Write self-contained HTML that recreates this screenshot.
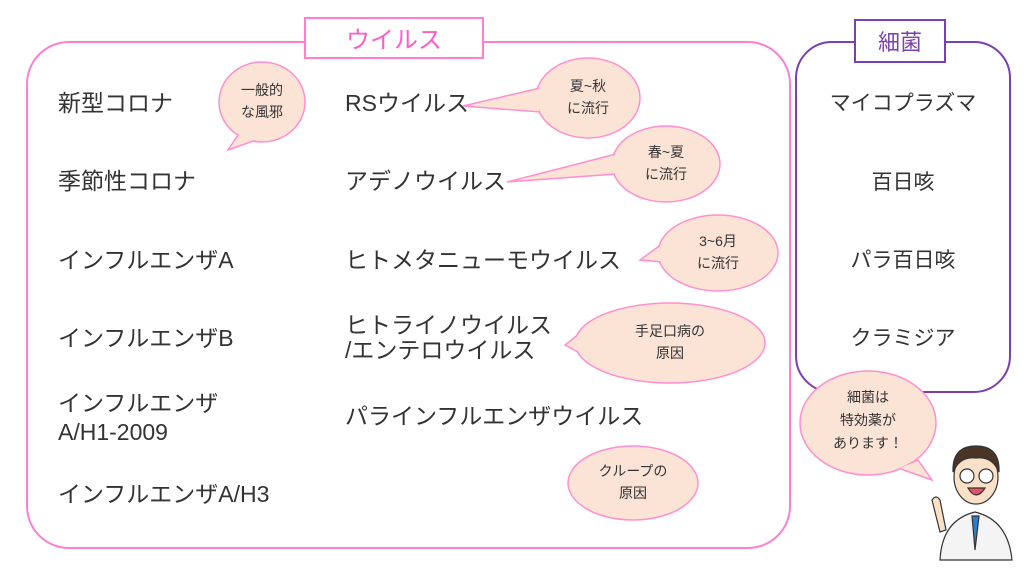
<!DOCTYPE html>
<html><head><meta charset="utf-8"><style>
body{margin:0;background:#fff}
svg text{font-family:"Liberation Sans","Noto Sans CJK JP",sans-serif;fill:#333}
.b{font-size:23px}
.s{font-size:14px}
</style></head><body>
<svg width="1024" height="565" viewBox="0 0 1024 565">
<rect x="27" y="42" width="763" height="506" rx="42" fill="none" stroke="#ff7ed0" stroke-width="2"/>
<rect x="305" y="18" width="178" height="40" fill="#fff" stroke="#ff7ed0" stroke-width="2"/>
<text x="394" y="48" text-anchor="middle" style="font-size:24px;fill:#ff5cc8">ウイルス</text>
<rect x="796" y="42" width="214" height="350" rx="36" fill="none" stroke="#7a3fb0" stroke-width="2"/>
<rect x="855" y="20" width="90" height="42" fill="#fff" stroke="#7a3fb0" stroke-width="2"/>
<text x="900" y="50" text-anchor="middle" style="font-size:22px;fill:#7a3fb0">細菌</text>

<g class="b">
<text x="58" y="111">新型コロナ</text>
<text x="58" y="189">季節性コロナ</text>
<text x="58" y="268">インフルエンザA</text>
<text x="58" y="346">インフルエンザB</text>
<text x="58" y="411">インフルエンザ</text>
<text x="58" y="440">A/H1-2009</text>
<text x="58" y="502">インフルエンザA/H3</text>
<text x="345" y="111">RSウイルス</text>
<text x="345" y="189">アデノウイルス</text>
<text x="345" y="268">ヒトメタニューモウイルス</text>
<text x="345" y="333">ヒトライノウイルス</text>
<text x="345" y="358">/エンテロウイルス</text>
<text x="345" y="424">パラインフルエンザウイルス</text>
</g>
<g style="font-size:21px" text-anchor="middle">
<text x="903" y="110">マイコプラズマ</text>
<text x="903" y="189">百日咳</text>
<text x="903" y="267">パラ百日咳</text>
<text x="903" y="345">クラミジア</text>
</g>

<g fill="#fbe3d6" stroke="#ff8fcf" stroke-width="1.5">
<ellipse cx="262" cy="102" rx="43" ry="40"/><polygon points="240,132 228,150 262,138"/>
<ellipse cx="588" cy="98" rx="52" ry="40"/><polygon points="540,88 463,106 540,112"/>
<ellipse cx="666" cy="164" rx="54" ry="38"/><polygon points="616,154 507,182 616,174"/>
<ellipse cx="718" cy="253" rx="60" ry="38"/><polygon points="662,244 640,260 662,262"/>
<ellipse cx="670" cy="343" rx="95" ry="40"/><polygon points="580,333 565,345 580,353"/>
<ellipse cx="633" cy="483" rx="65" ry="37"/>
<ellipse cx="868" cy="423" rx="68" ry="52"/><polygon points="898,468 932,480 918,460"/>
</g>
<g fill="#fbe3d6">
<ellipse cx="262" cy="102" rx="42" ry="39"/>
<ellipse cx="588" cy="98" rx="51" ry="39"/>
<ellipse cx="666" cy="164" rx="53" ry="37"/>
<ellipse cx="718" cy="253" rx="59" ry="37"/>
<ellipse cx="670" cy="343" rx="94" ry="39"/>
<ellipse cx="868" cy="423" rx="67" ry="51"/>
</g>
<g class="s" text-anchor="middle">
<text x="262" y="95">一般的</text><text x="262" y="117">な風邪</text>
<text x="588" y="91">夏~秋</text><text x="588" y="113">に流行</text>
<text x="666" y="157">春~夏</text><text x="666" y="179">に流行</text>
<text x="718" y="246">3~6月</text><text x="718" y="268">に流行</text>
<text x="670" y="336">手足口病の</text><text x="670" y="358">原因</text>
<text x="633" y="476">クループの</text><text x="633" y="498">原因</text>
<text x="868" y="402">細菌は</text><text x="868" y="425">特効薬が</text><text x="868" y="448">あります！</text>
</g>

<!-- doctor -->
<g stroke="#333" stroke-width="1.2">
<path d="M940,560 Q942,520 975,512 Q1008,520 1012,560 Z" fill="#f4f4f4"/>
<path d="M972,516 L975,550 L979,516 Z" fill="#2a7fd4"/>
<ellipse cx="976" cy="477" rx="22" ry="27" fill="#fbe0c8"/>
<path d="M953,472 Q952,446 976,446 Q1000,446 999,472 Q992,456 976,458 Q960,456 953,472 Z" fill="#4a3426"/>
<circle cx="967" cy="476" r="7" fill="#fff"/><circle cx="986" cy="476" r="7" fill="#fff"/>
<path d="M968,488 Q976,502 985,488 Z" fill="#e8506a"/>
<path d="M940,532 L932,500 Q936,494 940,500 L946,530 Z" fill="#fbe0c8"/>
</g>
</svg>
</body></html>
